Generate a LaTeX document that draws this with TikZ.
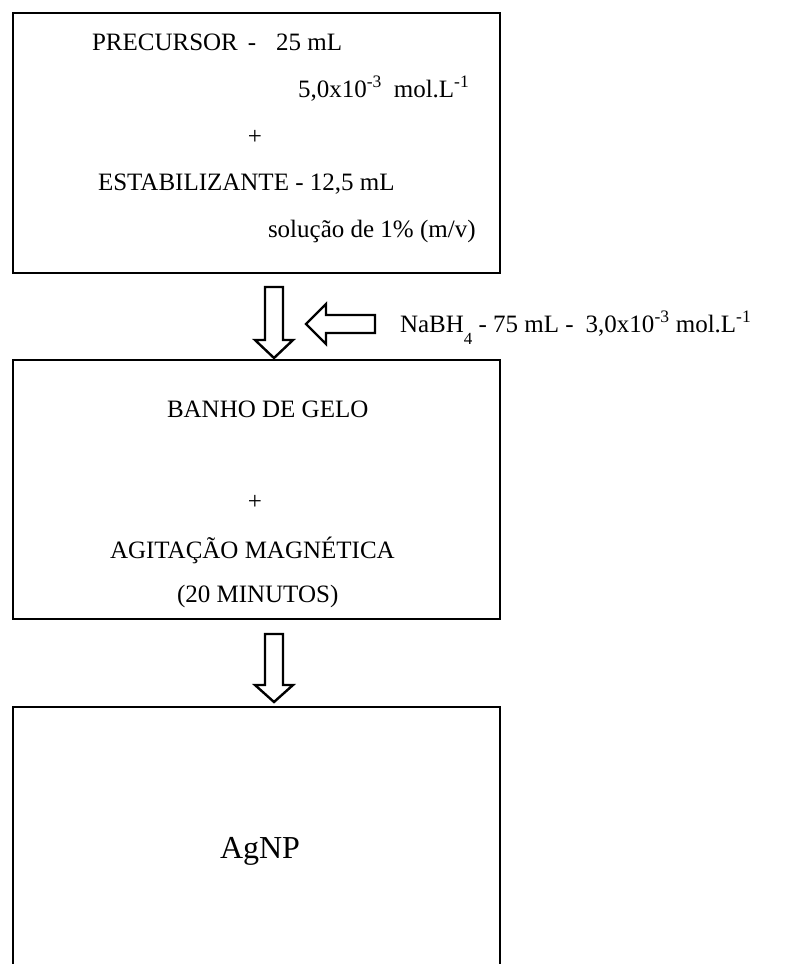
\documentclass[tikz,border=0pt]{standalone}
\usepackage{fontspec}
\setmainfont{Liberation Serif}
\usetikzlibrary{calc}
\tikzset{
  box/.style={draw, line width=2.8pt, inner sep=0pt, outer sep=0pt, minimum width=487pt},
  txt/.style={inner sep=0pt, outer sep=0pt, anchor=base west, font=\fontsize{25}{30}\selectfont},
  plus/.style={inner sep=0pt, outer sep=0pt, anchor=center, font=\fontsize{25}{30}\selectfont},
  blk/.style={draw, line width=2.4pt, line join=miter, fill=white}
}
\begin{document}
\begin{tikzpicture}[x=1pt,y=-1pt]
\useasboundingbox (0,0) rectangle (809,964);
% boxes
\node[box, minimum height=260pt] (b1) at (256.5,143) {};
\node[box, minimum height=259pt] (b2) at (256.5,489.5) {};
\node[box, minimum height=320pt] (b3) at (256.5,867) {};
% box 1 texts
\node[txt] (t11) at (92,50) {PRECURSOR\hspace{10pt}-\hspace{20pt}25 mL};
\node[txt] (t12) at (298,97) {5,0x10\textsuperscript{-3}\hspace{12pt}mol.L\textsuperscript{-1}};
\node[plus] (t13) at (255,137) {+};
\node[txt] (t14) at (98,190) {ESTABILIZANTE - 12,5 mL};
\node[txt] (t15) at (268,237) {solução de 1\% (m/v)};
% box 2 texts
\node[txt] (t21) at (167,417) {BANHO DE GELO};
\node[plus] (t22) at (255,502) {+};
\node[txt] (t23) at (110,558) {AGITAÇÃO MAGNÉTICA};
\node[txt] (t24) at (177,602) {(20 MINUTOS)};
% box 3 text
\node[txt, font=\fontsize{32}{38}\selectfont] (t31) at (220,858) {AgNP};
% reagent text
\node[txt] (na) at (400,332) {NaBH\raisebox{-12pt}{\fontsize{17}{17}\selectfont 4} - 75 mL -\hspace{12pt}3,0x10\textsuperscript{-3} mol.L\textsuperscript{-1}};
% arrow coordinates
\coordinate (s1) at (274,287);
\coordinate (e1) at (274,358);
\coordinate (s2) at (274,634);
\coordinate (e2) at (274,702);
\coordinate (s3) at (375,324);
\coordinate (e3) at (306,324);
% down arrow b1 -> b2
\draw[blk] (s1) ++(-9,0) -- ++(18,0) -- ++(0,53) -- ++(10,0) -- (e1) -- ++(-19,-18) -- ++(10,0) -- cycle;
% down arrow b2 -> b3
\draw[blk] (s2) ++(-9,0) -- ++(18,0) -- ++(0,51) -- ++(10,0) -- (e2) -- ++(-19,-17) -- ++(10,0) -- cycle;
% left arrow from reagent
\draw[blk] (s3) ++(0,-9) -- ++(-49,0) -- ++(0,-11) -- (e3) -- ++(20,20) -- ++(0,-11) -- ++(49,0) -- cycle;
\end{tikzpicture}
\end{document}
